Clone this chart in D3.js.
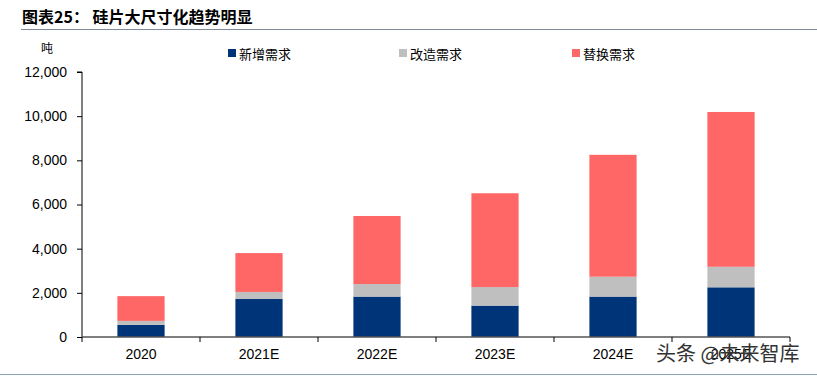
<!DOCTYPE html>
<html lang="zh">
<head>
<meta charset="UTF-8">
<title>硅片大尺寸化趋势明显</title>
<script src="https://d3js.org/d3.v7.min.js"></script>
<style>
    body { margin: 0; background: #fff; }
    svg text { fill: #000; }
</style>
</head>
<body>
<div id="chart"></div>
<script>
// data (吨)
const years = ["2020", "2021E", "2022E", "2023E", "2024E", "2025E"];
const newDemand = [550, 1720, 1830, 1420, 1830, 2250];
const retrofitDemand = [180, 320, 570, 840, 900, 930];
const replaceDemand = [1120, 1760, 3080, 4250, 5520, 7010];
const seriesNames = ["新增需求", "改造需求", "替换需求"];
const colors = ["#003478", "#BFBFBF", "#FF6666"];
const yTicks = [0, 2000, 4000, 6000, 8000, 10000, 12000];

const W = 817, H = 380;
const margin = { top: 72, left: 82, right: 27, bottom: 43 };

const svg = d3.select("#chart").append("svg")
    .attr("width", W).attr("height", H);

// title
svg.append("text")
    .attr("x", 22).attr("y", 23)
    .attr("font-family", "'Noto Sans CJK SC', sans-serif")
    .attr("font-weight", "bold")
    .attr("font-size", 16)
    .text("图表25：  硅片大尺寸化趋势明显");
svg.append("line")
    .attr("x1", 21).attr("x2", W).attr("y1", 29.5).attr("y2", 29.5)
    .attr("stroke", "#7f8a96").attr("stroke-width", 1.2);

const rows = years.map((y, i) => ({
    year: y, s0: newDemand[i], s1: retrofitDemand[i], s2: replaceDemand[i]
}));
const stacked = d3.stack().keys(["s0", "s1", "s2"])(rows);

const x = d3.scaleBand().domain(years)
    .range([margin.left, W - margin.right])
    .paddingInner(0.6).paddingOuter(0.3);
const y = d3.scaleLinear().domain([0, 12000])
    .range([H - margin.bottom, margin.top]);

// bars
svg.append("g").selectAll("g")
    .data(stacked).join("g")
    .attr("fill", (d, i) => colors[i])
    .selectAll("rect")
    .data(d => d).join("rect")
    .attr("x", d => x(d.data.year))
    .attr("width", x.bandwidth())
    .attr("y", d => y(d[1]))
    .attr("height", d => y(d[0]) - y(d[1]));

// y axis
const yAxis = svg.append("g")
    .attr("transform", `translate(${margin.left},0)`)
    .call(d3.axisLeft(y).tickValues(yTicks).tickSize(5).tickPadding(10)
        .tickFormat(d3.format(",")));
yAxis.selectAll("text")
    .attr("font-family", "'Liberation Sans', Arial, sans-serif")
    .attr("font-size", 14);
yAxis.selectAll("line, path").attr("stroke", "#000");
yAxis.select(".domain").attr("d", `M-5,${y(12000)}H0V${y(0)}`);

// x axis: ticks at band boundaries
const step = x.step();
const xAxis = svg.append("g")
    .attr("transform", `translate(0,${y(0)})`);
xAxis.append("line")
    .attr("x1", margin.left).attr("x2", W - margin.right)
    .attr("stroke", "#555").attr("stroke-width", 1.5);
xAxis.selectAll(".tk")
    .data(d3.range(years.length + 1)).join("line")
    .attr("x1", i => margin.left + i * step)
    .attr("x2", i => margin.left + i * step)
    .attr("y1", 0).attr("y2", 5)
    .attr("stroke", "#000");
xAxis.selectAll(".lbl")
    .data(years).join("text")
    .attr("x", d => x(d) + x.bandwidth() / 2)
    .attr("y", 22)
    .attr("text-anchor", "middle")
    .attr("font-family", "'Liberation Sans', Arial, sans-serif")
    .attr("font-size", 14)
    .text(d => d);

// unit
svg.append("text")
    .attr("x", 41).attr("y", 53)
    .attr("font-family", "'Noto Sans CJK SC', sans-serif")
    .attr("font-size", 12)
    .text("吨");

// legend
const legendX = [228, 399, 572];
const legend = svg.append("g").selectAll("g")
    .data(seriesNames).join("g")
    .attr("transform", (d, i) => `translate(${legendX[i]},54)`);
legend.append("rect")
    .attr("x", 0).attr("y", -5).attr("width", 8).attr("height", 8)
    .attr("fill", (d, i) => colors[i]);
legend.append("text")
    .attr("x", 11).attr("y", 4.5)
    .attr("font-family", "'Noto Sans CJK SC', sans-serif")
    .attr("font-size", 13)
    .text(d => d);

// bottom rule + watermark
svg.append("line")
    .attr("x1", 0).attr("x2", W).attr("y1", 374.5).attr("y2", 374.5)
    .attr("stroke", "#8ea3b5").attr("stroke-width", 1.2);
svg.append("text")
    .attr("x", 656).attr("y", 361)
    .attr("font-family", "'Noto Sans CJK SC', sans-serif")
    .attr("font-size", 20)
    .style("fill", "#333")
    .text("头条 @未来智库");
</script>
</body>
</html>
